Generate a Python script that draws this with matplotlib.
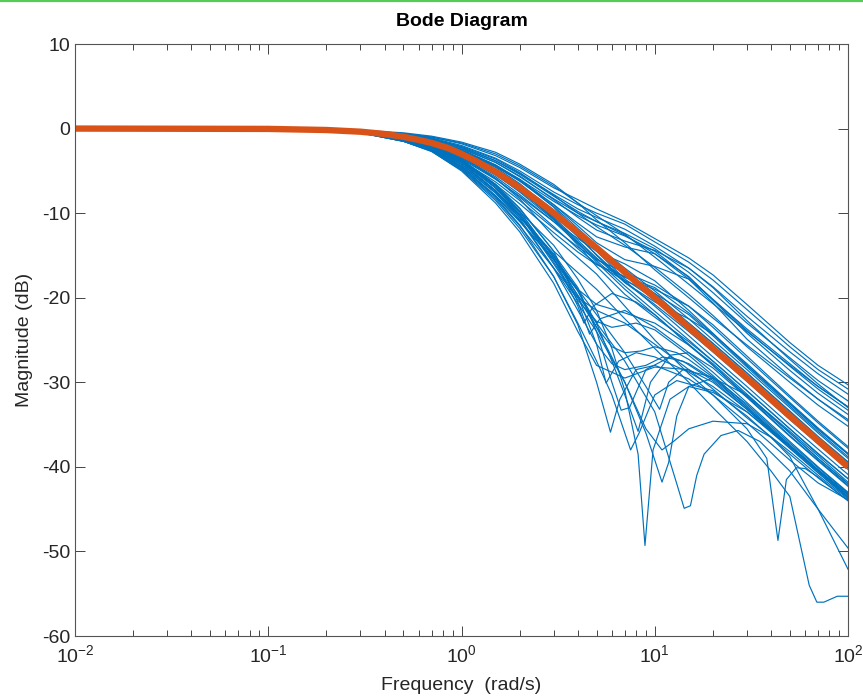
import numpy as np
import matplotlib
matplotlib.use("Agg")
import matplotlib.pyplot as plt
from matplotlib.lines import Line2D
from matplotlib.ticker import LogLocator, NullFormatter, FixedLocator

plt.rcParams['font.family'] = ['Liberation Sans', 'DejaVu Sans']
plt.rcParams['axes.unicode_minus'] = False
plt.rcParams['mathtext.default'] = 'regular'

# ---------------- data ----------------
# common frequency grid for the smooth sampled responses, rad/s
freq = [0.01, 0.1, 0.3, 0.5, 0.7, 1, 1.5, 2, 3, 4, 5, 7, 10, 15, 20, 30, 50, 70, 100]

# nominal model (thick orange)
nominal_w = [0.01, 0.1, 0.2, 0.3, 0.4, 0.5, 0.6, 0.7, 0.85, 1, 1.2, 1.5, 2, 2.5, 3,
             4, 5, 7, 10, 15, 20, 30, 50, 70, 100]
nominal_db = [0, -0.04, -0.17, -0.37, -0.64, -0.97, -1.34, -1.7, -2.3, -3.0, -3.9,
              -5.1, -7.0, -8.6, -10.0, -12.3, -14.1, -17.0, -20.0, -23.5, -26.0,
              -29.5, -34.0, -36.9, -40.0]

# upper bundle of sampled models, dB on freq
upper_db = [
    [0, 0, -0.2, -0.6, -1.0, -1.8, -3.2, -4.6, -7.0, -8.4, -9.5, -11.0, -13.0, -15.3, -17.3, -20.8, -25.3, -28.0, -30.3],
    [0, 0, -0.2, -0.6, -1.1, -2.0, -3.5, -5.0, -7.5, -9.0, -10.0, -11.3, -13.4, -15.8, -17.9, -21.4, -25.8, -28.5, -30.8],
    [0, 0, -0.2, -0.7, -1.2, -2.2, -3.8, -5.3, -7.8, -9.5, -10.5, -11.9, -13.9, -16.5, -18.7, -22.2, -26.4, -29.0, -31.4],
    [0, 0, -0.3, -0.8, -1.4, -2.4, -4.0, -5.7, -8.3, -10.0, -11.0, -12.4, -14.2, -17.0, -19.4, -23.0, -27.1, -29.8, -32.2],
    [0, 0, -0.2, -0.6, -1.0, -1.7, -3.0, -4.4, -6.8, -8.8, -10.3, -12.5, -15.2, -18.4, -20.7, -24.0, -28.0, -30.5, -32.9],
    [0, 0, -0.3, -0.8, -1.3, -2.3, -4.0, -5.6, -8.4, -10.5, -12.0, -13.3, -14.4, -16.5, -18.8, -22.7, -27.3, -30.2, -33.0],
    [0, 0, -0.2, -0.5, -0.9, -1.6, -2.8, -4.2, -6.6, -8.8, -10.8, -13.5, -16.7, -20.0, -22.4, -25.6, -29.5, -32.0, -34.4],
    [0, 0, -0.3, -0.9, -1.6, -2.7, -4.5, -6.2, -9.0, -11.2, -12.8, -14.0, -14.8, -17.5, -20.3, -24.2, -28.6, -31.3, -33.8],
    [0, 0, -0.2, -0.7, -1.2, -2.1, -3.6, -5.2, -7.9, -10.0, -11.6, -13.8, -16.4, -19.6, -22.1, -25.8, -30.0, -32.7, -35.2],
    [0, 0, -0.3, -0.8, -1.4, -2.5, -4.3, -6.0, -9.0, -11.5, -13.5, -15.5, -16.3, -17.8, -20.6, -24.9, -29.3, -32.0, -34.6],
    [0, 0, -0.2, -0.7, -1.2, -2.2, -3.8, -5.4, -8.0, -9.8, -11.0, -12.6, -14.8, -17.8, -20.2, -23.7, -27.8, -30.5, -32.9],
    [0, 0, -0.3, -0.8, -1.5, -2.6, -4.4, -6.0, -8.6, -10.3, -11.4, -12.7, -14.5, -17.6, -20.2, -23.9, -28.1, -30.8, -33.3],
]

# middle bundle (around the nominal), dB on freq
middle_db = [
    [0, 0, -0.3, -0.9, -1.6, -2.8, -4.8, -6.6, -9.6, -12.0, -13.8, -16.5, -19.2, -22.5, -25.0, -28.5, -33.0, -36.0, -39.0],
    [0, 0, -0.4, -1.1, -1.9, -3.3, -5.5, -7.4, -10.4, -12.6, -14.3, -16.8, -19.5, -23.0, -25.4, -28.9, -33.4, -36.4, -39.4],
    [0, 0, -0.3, -0.8, -1.5, -2.6, -4.4, -6.2, -9.2, -11.8, -13.8, -16.8, -19.8, -23.4, -25.8, -29.3, -33.8, -36.7, -39.7],
    [0, 0, -0.4, -1.2, -2.1, -3.6, -6.0, -8.0, -11.0, -13.0, -14.5, -16.0, -18.0, -21.5, -24.2, -28.0, -32.6, -35.6, -38.5],
    [0, 0, -0.3, -0.9, -1.6, -2.9, -5.0, -7.0, -10.2, -12.8, -14.9, -18.0, -21.0, -24.5, -27.0, -30.5, -35.0, -37.9, -40.9],
    [0, 0, -0.4, -1.0, -1.8, -3.1, -5.3, -7.3, -10.5, -13.2, -15.3, -18.2, -20.8, -24.0, -26.4, -29.9, -34.4, -37.3, -40.3],
    [0, 0, -0.3, -0.8, -1.4, -2.5, -4.3, -6.1, -9.3, -12.2, -14.5, -17.8, -20.2, -23.0, -25.4, -28.9, -33.5, -36.5, -39.5],
    [0, 0, -0.5, -1.3, -2.2, -3.8, -6.3, -8.5, -11.8, -14.0, -15.5, -17.0, -18.5, -21.0, -23.5, -27.2, -31.8, -34.8, -37.8],
    [0, 0, -0.4, -1.1, -1.9, -3.4, -5.7, -7.8, -11.0, -13.6, -15.6, -18.6, -21.6, -25.0, -27.5, -31.0, -35.5, -38.5, -41.4],
    [0, 0, -0.3, -1.0, -1.7, -3.0, -5.2, -7.2, -10.6, -13.5, -15.8, -19.0, -22.0, -25.6, -28.0, -31.6, -36.0, -39.0, -42.0],
    [0, 0, -0.4, -1.2, -2.0, -3.5, -5.9, -8.1, -11.6, -14.2, -16.0, -18.0, -19.5, -22.0, -24.5, -28.2, -32.8, -35.8, -38.8],
    [0, 0, -0.3, -0.9, -1.5, -2.7, -4.6, -6.5, -9.8, -12.6, -15.0, -18.2, -20.5, -22.5, -24.3, -27.8, -32.4, -35.4, -38.4],
    [0, 0, -0.4, -1.0, -1.8, -3.2, -5.4, -7.5, -10.8, -13.4, -15.4, -17.6, -19.0, -21.0, -23.2, -26.9, -31.6, -34.6, -37.6],
    [0, 0, -0.3, -0.9, -1.6, -2.9, -5.1, -7.2, -10.7, -13.8, -16.3, -19.6, -22.3, -25.2, -27.5, -31.0, -35.5, -38.4, -41.4],
    [0, 0, -0.5, -1.3, -2.3, -4.0, -6.6, -8.9, -12.3, -14.6, -16.1, -17.5, -18.8, -21.8, -24.3, -28.0, -32.5, -35.5, -38.5],
]

# lower, resonant samples: each has its own frequency points
low1_w = [0.01, 0.1, 0.3, 0.5, 0.7, 1, 1.5, 2, 3, 4, 5, 5.6, 6.5, 8, 10, 15, 20, 30, 50, 70, 100]
low1_db = [0, 0, -0.5, -1.3, -2.4, -4.4, -7.6, -10.5, -15.0, -19.8, -25.5, -30.1, -27.5, -26.5, -27.0, -28.8, -30.5, -33.5, -37.8, -40.7, -43.6]
low2_w = [0.01, 0.1, 0.3, 0.5, 0.7, 1, 1.5, 2, 3, 4, 5, 6, 7, 8.2, 8.9, 9.8, 12, 15, 20, 30, 50, 70, 100]
low2_db = [0, 0, -0.4, -1.2, -2.2, -4.0, -7.0, -9.8, -13.8, -17.8, -21.5, -26.0, -31.0, -38.5, -49.3, -38.0, -32.0, -30.5, -31.2, -33.5, -37.6, -40.4, -43.3]
low3_w = [0.01, 0.1, 0.3, 0.5, 0.7, 1, 1.5, 2, 3, 4, 5, 6, 7, 8.2, 9.5, 12, 15, 20, 30, 50, 70, 100]
low3_db = [0, 0, -0.5, -1.4, -2.5, -4.6, -8.0, -11.0, -15.5, -19.2, -23.0, -27.5, -31.5, -35.8, -30.0, -26.8, -26.5, -28.3, -31.8, -36.4, -39.3, -42.3]
low4_w = [0.01, 0.1, 0.3, 0.5, 0.7, 1, 1.5, 2, 3, 4, 5, 6, 6.7, 7.4, 9, 12, 15, 20, 30, 50, 70, 100]
low4_db = [0, 0, -0.4, -1.3, -2.3, -4.2, -7.4, -10.3, -14.8, -18.8, -24.0, -30.0, -33.3, -33.0, -28.5, -27.0, -27.8, -29.6, -33.0, -37.6, -40.5, -43.5]
low5_w = [0.01, 0.1, 0.3, 0.5, 0.7, 1, 1.5, 2, 3, 4, 4.6, 5.2, 7, 10, 15, 20, 30, 50, 70, 100]
low5_db = [0, 0, -0.4, -1.1, -2.0, -3.7, -6.6, -9.4, -14.5, -20.5, -24.3, -22.5, -21.5, -23.5, -26.5, -28.8, -32.4, -37.0, -40.0, -43.0]
low6_w = [0.01, 0.1, 0.3, 0.5, 0.7, 1, 1.5, 2, 3, 4, 5, 7, 9, 10.9, 11.8, 13, 15, 20, 30, 50, 70, 100]
low6_db = [0, 0, -0.5, -1.5, -2.6, -4.8, -8.3, -11.5, -16.5, -20.7, -24.0, -30.0, -36.0, -41.8, -39.5, -34.0, -30.5, -29.5, -31.5, -35.8, -38.7, -41.8]
low7_w = [0.01, 0.1, 0.3, 0.5, 0.7, 1, 1.5, 2, 3, 4, 5, 7, 10, 13, 14.2, 15.3, 16.5, 18, 22, 27, 35, 50, 70, 100]
low7_db = [0, 0, -0.5, -1.4, -2.5, -4.5, -7.9, -10.9, -15.5, -19.7, -23.0, -27.5, -33.5, -42.0, -44.9, -44.6, -41.0, -38.5, -36.3, -35.7, -37.0, -40.5, -45.0, -49.6]
low8_w = [0.01, 0.1, 0.3, 0.5, 0.7, 1, 1.5, 2, 3, 4, 5, 7, 9, 10.9, 12.5, 15, 20, 30, 40, 50, 70, 100]
low8_db = [0, 0, -0.4, -1.3, -2.3, -4.2, -7.4, -10.3, -15.0, -19.2, -23.5, -30.0, -35.5, -38.0, -37.0, -35.5, -34.6, -34.9, -36.5, -38.8, -45.0, -52.1]
low9_w = [0.01, 0.1, 0.3, 0.5, 0.7, 1, 1.5, 2, 3, 5, 7, 10, 15, 20, 30, 38, 43.4, 48, 54, 60, 70, 100]
low9_db = [0, 0, -0.3, -1.0, -1.8, -3.3, -5.9, -8.3, -12.8, -17.2, -21.0, -25.0, -29.0, -31.5, -35.5, -39.0, -48.7, -41.5, -40.1, -40.2, -41.2, -44.0]
low10_w = [0.01, 0.1, 0.3, 0.5, 0.7, 1, 1.5, 2, 3, 5, 7, 10, 15, 20, 30, 40, 50, 63, 69, 75, 88, 100]
low10_db = [0, 0, -0.4, -1.2, -2.1, -3.8, -6.7, -9.5, -14.5, -19.0, -22.5, -26.0, -30.0, -33.0, -37.0, -40.5, -43.5, -54.0, -56.0, -56.0, -55.3, -55.3]
low11_w = [0.01, 0.1, 0.3, 0.5, 0.7, 1, 1.5, 2, 3, 4, 5, 5.9, 6.6, 8, 10, 15, 20, 30, 50, 70, 100]
low11_db = [0, 0, -0.5, -1.5, -2.7, -4.9, -8.5, -11.8, -17.5, -23.2, -30.0, -35.9, -32.0, -28.5, -28.0, -29.6, -31.5, -34.8, -39.2, -41.9, -43.9]
low12_w = [0.01, 0.1, 0.3, 0.5, 0.7, 1, 1.5, 2, 3, 4, 5, 7, 10, 15, 20, 30, 50, 70, 100]
low12_db = [0, 0, -0.5, -1.5, -2.7, -5.0, -8.8, -12.2, -18.3, -24.0, -28.0, -29.5, -28.2, -28.5, -30.0, -33.2, -37.6, -40.5, -43.5]
low13_w = [0.01, 0.1, 0.3, 0.5, 0.7, 1, 1.5, 2, 3, 4, 5, 7, 10, 15, 20, 30, 50, 70, 100]
low13_db = [0, 0, -0.4, -1.2, -2.2, -4.0, -7.3, -10.6, -16.5, -20.0, -21.5, -23.0, -25.5, -28.5, -30.8, -34.2, -38.2, -41.0, -43.8]
low14_w = [0.01, 0.1, 0.3, 0.5, 0.7, 1, 1.5, 2, 3, 4, 4.3, 4.8, 6, 8, 10, 15, 20, 30, 50, 70, 100]
low14_db = [0, 0, -0.4, -1.2, -2.1, -3.8, -6.8, -9.8, -15.3, -21.0, -23.0, -21.0, -19.5, -20.5, -22.0, -25.5, -28.0, -31.7, -36.3, -39.2, -42.2]
low15_w = [0.01, 0.1, 0.3, 0.5, 0.7, 1, 1.5, 2, 3, 4, 5, 6, 7, 8.5, 10, 13, 15, 20, 30, 50, 70, 100]
low15_db = [0, 0, -0.4, -1.2, -2.1, -3.8, -7.0, -10.0, -15.8, -20.0, -23.5, -25.8, -26.5, -26.3, -25.8, -26.5, -27.3, -29.4, -33.0, -37.5, -40.4, -43.3]
low16_w = [0.01, 0.1, 0.3, 0.5, 0.7, 1, 1.5, 2, 3, 4, 5, 6, 7, 9, 11, 14, 20, 30, 50, 70, 100]
low16_db = [0, 0, -0.5, -1.4, -2.4, -4.4, -7.6, -10.8, -16.5, -21.5, -25.5, -27.8, -28.5, -28.0, -27.0, -27.5, -29.8, -33.2, -37.8, -40.7, -43.7]
low17_w = [0.01, 0.1, 0.3, 0.5, 0.7, 1, 1.5, 2, 3, 4, 5, 7, 9, 10.6, 11.8, 14, 20, 30, 50, 70, 100]
low17_db = [0, 0, -0.4, -1.3, -2.3, -4.2, -7.3, -10.2, -15.5, -19.0, -22.0, -26.5, -30.5, -33.2, -30.0, -28.5, -29.4, -32.6, -37.2, -40.1, -43.1]
low18_w = [0.01, 0.1, 0.3, 0.5, 0.7, 1, 1.5, 2, 3, 4, 5, 6, 7.5, 8.3, 10, 13, 20, 30, 50, 70, 100]
low18_db = [0, 0, -0.5, -1.5, -2.6, -4.7, -8.1, -11.4, -17.5, -23.0, -27.5, -31.5, -38.0, -36.0, -31.5, -29.8, -31.0, -34.0, -38.5, -41.3, -44.0]
low19_w = [0.01, 0.1, 0.3, 0.5, 0.7, 1, 1.5, 2, 3, 4, 5, 7, 10, 15, 20, 30, 50, 70, 100]
low19_db = [0, 0, -0.4, -1.1, -2.0, -3.6, -6.6, -9.8, -15.2, -19.0, -20.8, -21.8, -23.0, -25.6, -27.8, -31.4, -36.0, -39.0, -42.0]
low20_w = [0.01, 0.1, 0.3, 0.5, 0.7, 1, 1.5, 2, 3, 4, 5, 6, 8, 10, 15, 20, 30, 50, 70, 100]
low20_db = [0, 0, -0.4, -1.2, -2.1, -3.8, -7.0, -10.2, -16.0, -20.3, -22.8, -23.5, -23.0, -23.8, -26.8, -29.2, -32.8, -37.4, -40.3, -43.2]

lower = [(low1_w, low1_db), (low2_w, low2_db), (low3_w, low3_db), (low4_w, low4_db),
         (low5_w, low5_db), (low6_w, low6_db), (low7_w, low7_db), (low8_w, low8_db),
         (low9_w, low9_db), (low10_w, low10_db), (low11_w, low11_db), (low12_w, low12_db),
         (low13_w, low13_db), (low14_w, low14_db), (low15_w, low15_db), (low16_w, low16_db),
         (low17_w, low17_db), (low18_w, low18_db), (low19_w, low19_db), (low20_w, low20_db)]

blue = '#0072BD'
orange = '#D95319'
axcol = '#262626'

# ---------------- figure ----------------
fig = plt.figure(figsize=(8.63, 6.98), dpi=100)
ax = fig.add_axes([75 / 863, 62 / 698, 773 / 863, 592 / 698])

for row in upper_db + middle_db:
    ax.semilogx(freq, row, color=blue, lw=0.85)
for w, db in lower:
    ax.semilogx(w, db, color=blue, lw=0.85)
ax.semilogx(nominal_w, nominal_db, color=orange, lw=4.6, solid_capstyle='butt',
            solid_joinstyle='round')

ax.set_xlim(0.01, 100)
ax.set_ylim(-60, 10)
ax.yaxis.set_major_locator(FixedLocator(range(-60, 11, 10)))
ax.xaxis.set_major_locator(LogLocator(base=10, numticks=10))
ax.xaxis.set_minor_locator(LogLocator(base=10, subs=np.arange(2, 10), numticks=20))
ax.xaxis.set_minor_formatter(NullFormatter())

ax.tick_params(which='both', direction='in', top=True, right=True, colors=axcol,
               labelsize=14, width=0.6)
ax.tick_params(which='major', length=7)
ax.tick_params(which='minor', length=4)
ax.tick_params(axis='x', pad=6)
for s in ax.spines.values():
    s.set_color('#555555')
    s.set_linewidth(0.8)

ax.set_title('Bode Diagram', fontsize=14, fontweight='bold', pad=13)
ax.set_xlabel('Frequency  (rad/s)', fontsize=14, color=axcol, labelpad=8)
ax.set_ylabel('Magnitude (dB)', fontsize=14, color=axcol, labelpad=6)

# green strip at the top edge of the screenshot
fig.add_artist(Line2D([0, 1], [0.9985, 0.9985], transform=fig.transFigure,
                      color='#55cc55', lw=1.6))

fig.savefig('out.png', dpi=100)
